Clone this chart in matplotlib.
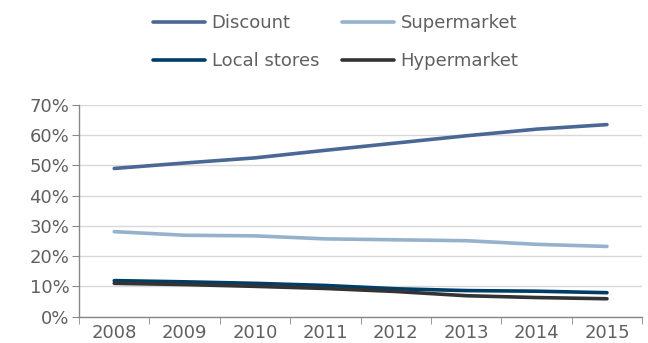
import matplotlib
matplotlib.use("Agg")
import matplotlib.pyplot as plt
from matplotlib.ticker import FixedLocator, PercentFormatter

years = ["2008", "2009", "2010", "2011", "2012", "2013", "2014", "2015"]
discount = [49.0, 50.8, 52.5, 55.0, 57.4, 59.8, 62.0, 63.5]
supermarket = [28.1, 26.9, 26.7, 25.7, 25.4, 25.1, 23.9, 23.2]
local_stores = [11.9, 11.5, 11.0, 10.3, 9.2, 8.6, 8.4, 7.9]
hypermarket = [11.0, 10.6, 10.0, 9.3, 8.3, 6.9, 6.3, 5.9]

series = [
    ("Discount", discount, "#4a6896"),
    ("Supermarket", supermarket, "#96b1cc"),
    ("Local stores", local_stores, "#003d66"),
    ("Hypermarket", hypermarket, "#333333"),
]

text_color = "#606060"
plt.rcParams["font.family"] = ["DejaVu Sans"]

fig = plt.figure(figsize=(6.48, 3.43), dpi=100)
ax = fig.add_axes([0.122, 0.077, 0.869, 0.617])

x = list(range(len(years)))
handles = {}
for name, vals, col in series:
    h, = ax.plot(x, vals, color=col, lw=2.6, solid_capstyle="round", label=name)
    handles[name] = h

ax.set_xlim(-0.5, len(years) - 0.5)
ax.set_ylim(0, 70)
ax.yaxis.set_major_locator(FixedLocator(range(0, 71, 10)))
ax.yaxis.set_major_formatter(PercentFormatter(decimals=0))
ax.set_xticks(x)
ax.set_xticklabels(years)
ax.xaxis.set_minor_locator(FixedLocator([i - 0.5 for i in range(len(years) + 1)]))
ax.tick_params(axis="x", which="major", length=0, pad=5, labelsize=13, colors=text_color)
ax.tick_params(axis="x", which="minor", length=5, color="#888888", direction="out")
ax.tick_params(axis="y", length=5, color="#888888", labelsize=13, colors=text_color, pad=2)

ax.grid(axis="y", color="#d9d9d9", lw=1)
ax.set_axisbelow(True)
for s in ["top", "right"]:
    ax.spines[s].set_visible(False)
for s in ["left", "bottom"]:
    ax.spines[s].set_color("#888888")
    ax.spines[s].set_linewidth(1)

order = ["Discount", "Local stores", "Supermarket", "Hypermarket"]
fig.legend(handles=[handles[n] for n in order], ncol=2, loc="upper left",
           bbox_to_anchor=(153 / 648, 1 - 14 / 343), borderaxespad=0, borderpad=0,
           frameon=False, fontsize=13, labelcolor=text_color, handlelength=2.9,
           handletextpad=0.35, columnspacing=1.25, labelspacing=1.1)

fig.savefig("out.png", dpi=100, facecolor="white")
